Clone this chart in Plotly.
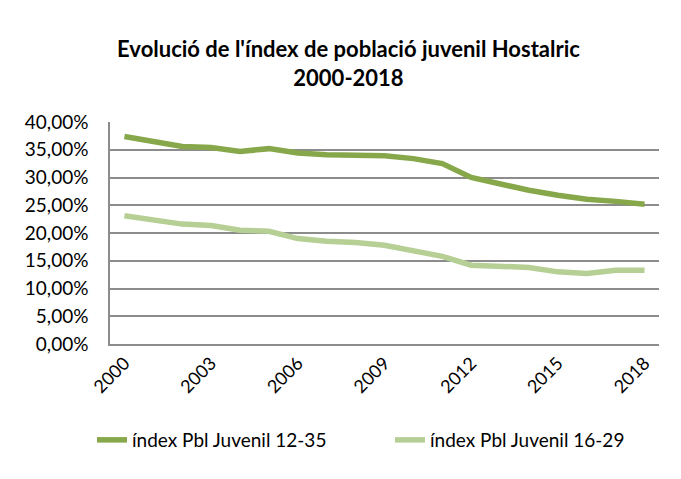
import plotly.graph_objects as go

years = [str(y) for y in range(2000, 2019)]
tick_years = ["2000", "2003", "2006", "2009", "2012", "2015", "2018"]
idx_12_35 = [37.4, 36.5, 35.6, 35.4, 34.7, 35.2, 34.4, 34.1, 34.0, 33.9,
             33.4, 32.5, 30.0, 28.8, 27.7, 26.8, 26.1, 25.7, 25.2]
idx_16_29 = [23.1, 22.4, 21.6, 21.35, 20.5, 20.3, 19.0, 18.5, 18.3, 17.8,
             16.8, 15.8, 14.2, 13.9, 13.8, 13.0, 12.7, 13.3, 13.3]
names = ["índex Pbl Juvenil 12-35", "índex Pbl Juvenil 16-29"]

FONT = "Lato"

fig = go.Figure()
fig.add_trace(go.Scatter(x=years, y=[v / 100 for v in idx_12_35], mode="lines",
                         name=names[0], line=dict(color="#86A84A", width=5.5),
                         legend="legend"))
fig.add_trace(go.Scatter(x=years, y=[v / 100 for v in idx_16_29], mode="lines",
                         name=names[1], line=dict(color="#B6CF95", width=5.5),
                         legend="legend2"))

legend_common = dict(orientation="h", xref="container", xanchor="left",
                     yref="container", y=1 - 432 / 479, yanchor="middle",
                     font=dict(family=FONT, size=19), bgcolor="rgba(0,0,0,0)")

fig.update_layout(
    width=681, height=479,
    margin=dict(l=102, r=30, t=114, b=143, autoexpand=False),
    paper_bgcolor="white", plot_bgcolor="white",
    separators=",.",
    font=dict(family=FONT, size=18, color="#000000"),
    title=dict(text="<b>Evolució de l'índex de població juvenil Hostalric<br>2000-2018</b>",
               x=0.5, xanchor="center", y=0.897, yanchor="top",
               font=dict(family=FONT, size=22, color="#000000")),
    xaxis=dict(type="category", range=[-0.5, 18.5], tickmode="array",
               tickvals=tick_years, ticktext=tick_years, tickangle=-45,
               showgrid=False, showline=True, linecolor="#8C8C8C", linewidth=1.5,
               ticks="", tickfont=dict(family=FONT, size=18), automargin=False),
    yaxis=dict(range=[0, 0.4], dtick=0.05, tickformat=".2%",
               showgrid=True, gridcolor="#8C8C8C", gridwidth=1.5,
               showline=True, linecolor="#8C8C8C", linewidth=1.5,
               zeroline=False, ticks="", ticklabelstandoff=16,
               tickfont=dict(family=FONT, size=19), automargin=False),
    legend=dict(x=84 / 681, **legend_common),
    legend2=dict(x=382 / 681, **legend_common),
    showlegend=True,
)

fig.write_html("out.html")
